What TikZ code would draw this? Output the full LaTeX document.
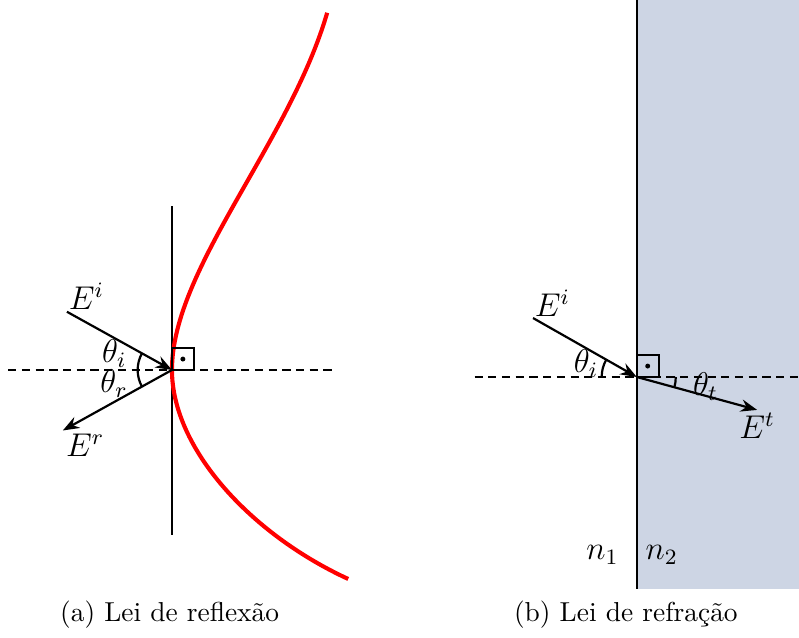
\documentclass[tikz,border=0pt]{standalone}
\usepackage{fontspec}
\usetikzlibrary{arrows.meta}
\definecolor{meio}{RGB}{205,213,228}
\begin{document}
\begin{tikzpicture}[x=1cm,y=1cm,
  raio/.style={thick,-{Stealth[length=6pt,width=4.5pt,inset=2pt]}},
  normal/.style={thick,dash pattern=on 3pt off 2pt},
  rotulo/.style={font=\large}]
  \useasboundingbox (-2.205,-3.436) rectangle (8.04,4.744);

  % (a) reflexao
  \coordinate (O) at (0,0);
  \coordinate (Ai) at (151:1.54);
  \coordinate (Ar) at (209:1.6);
  \draw[normal] (-2.1,0) -- (2.09,0);
  \draw[thick] (0,2.1) -- (0,-2.12);
  \draw[red,line width=1.5pt] (1.99,4.58) .. controls (1.5,2.9) and (0,1.3) .. (O)
    .. controls (0,-1.0) and (1.0,-2.1) .. (2.26,-2.68);
  \draw[raio] (Ai) -- (O);
  \draw[raio] (O) -- (Ar);
  \draw[thick] (O) rectangle (0.28,0.28);
  \fill (0.14,0.14) circle (0.9pt);
  \draw[thick] (180:0.44) arc (180:151:0.44);
  \draw[thick] (180:0.44) arc (180:209:0.44);
  \node[rotulo,anchor=south west,inner sep=0.5pt] (lEi) at (Ai) {$E^i$};
  \node[rotulo,anchor=north west,inner sep=1pt] (lEr) at (Ar) {$E^r$};
  \node[rotulo,inner sep=0pt] (lti) at (-0.74,0.21) {$\theta_i$};
  \node[rotulo,inner sep=0pt] (ltr) at (-0.74,-0.17) {$\theta_r$};
  \node (capa) at (-0.03,-3.14) {(a) Lei de reflexão};

  % (b) refracao
  \begin{scope}[shift={(5.96,-0.09)}]
    \fill[meio] (0,-2.72) rectangle (2.08,4.834);
    \coordinate (P) at (0,0);
    \coordinate (Bi) at (150.4:1.53);
    \coordinate (Bt) at (-15.3:1.6);
    \draw[normal] (-2.08,0) -- (2.08,0);
    \draw[thick] (0,4.834) -- (0,-2.72);
    \draw[raio] (Bi) -- (P);
    \draw[raio] (P) -- (Bt);
    \draw[thick] (P) rectangle (0.28,0.28);
    \fill (0.14,0.14) circle (0.9pt);
    \draw[thick] (180:0.45) arc (180:150.4:0.45);
    \draw[thick] (0:0.5) arc (0:-15.3:0.5);
    \node[rotulo,anchor=south west,inner sep=0.5pt] (lBi) at (Bi) {$E^i$};
    \node[rotulo,anchor=north,inner sep=1pt] (lBt) at (Bt) {$E^t$};
    \node[rotulo] (lbi) at (-0.65,0.17) {$\theta_i$};
    \node[rotulo] (lbt) at (0.88,-0.12) {$\theta_t$};
    \node[rotulo] (n1) at (-0.44,-2.28) {$n_1$};
    \node[rotulo] (n2) at (0.32,-2.28) {$n_2$};
    \node (capb) at (-0.14,-3.05) {(b) Lei de refração};
  \end{scope}
\end{tikzpicture}
\end{document}
